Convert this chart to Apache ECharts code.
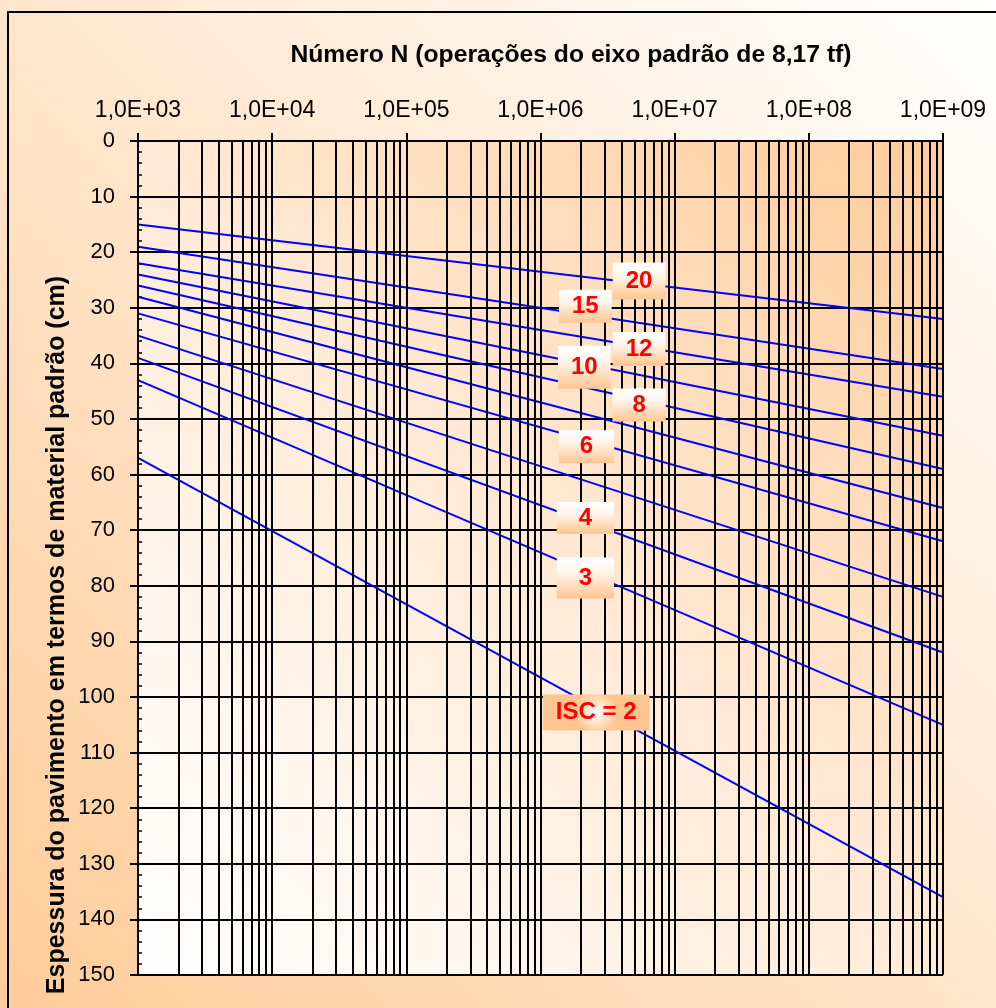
<!DOCTYPE html>
<html>
<head>
<meta charset="utf-8">
<script src="https://cdn.jsdelivr.net/npm/echarts@6/dist/echarts.min.js"></script>
<style>
html,body{margin:0;padding:0;background:#fff;}
#chart{width:996px;height:1008px;}
</style>
</head>
<body>
<div id="chart"></div>
<script>
// ---- data ----
const iscValues = [20, 15, 12, 10, 8, 7, 6, 5, 4, 3, 2];
const nStart = 1e3;
const nEnd = 1e9;
const thicknessAtStart = [15, 19, 22, 24, 26, 28, 31, 35, 39, 43, 57];
const thicknessAtEnd   = [32, 41, 46, 53, 59, 66, 72, 82, 92, 105, 136];

const labelTexts = ['20', '15', '12', '10', '8', '6', '4', '3', 'ISC = 2'];
const labelN     = [5.43e6, 2.16e6, 5.43e6, 2.12e6, 5.43e6, 2.2e6, 2.16e6, 2.16e6, 2.6e6];
const labelH     = [25.2, 29.7, 37.4, 40.7, 47.5, 55.0, 67.8, 78.6, 102.8];

const xTickExponents = [3, 4, 5, 6, 7, 8, 9];
const yTicks = [0, 10, 20, 30, 40, 50, 60, 70, 80, 90, 100, 110, 120, 130, 140, 150];

const xTitle = 'Número N (operações do eixo padrão de 8,17 tf)';
const yTitle = 'Espessura do pavimento em termos de material padrão (cm)';

// ---- styles ----
const labelPadding = [
  [13, 13, 4, 13], [12, 13, 1, 13], [13, 13, 1, 13], [13, 13, 10, 13], [13, 20, 0, 20],
  [13, 21, 0, 21], [11, 22, 1, 22], [13, 22, 8, 22], [13, 13, 3, 13]
];
const peach = '#FFCC99';
const FONT = 'Arial, "Liberation Sans", sans-serif';
const G = echarts.graphic;

// vertical log grid lines (1..9 x 10^k)
const vGrid = [];
for (let e = xTickExponents[0]; e < xTickExponents[xTickExponents.length - 1]; e++) {
  for (let k = 1; k <= 9; k++) vGrid.push(k * Math.pow(10, e));
}
vGrid.push(nEnd);

const lineSeries = iscValues.map((isc, i) => ({
  name: 'ISC ' + isc,
  type: 'line',
  data: [[nStart, thicknessAtStart[i]], [nEnd, thicknessAtEnd[i]]],
  symbol: 'none',
  showSymbol: false,
  silent: true,
  z: 3,
  lineStyle: { color: '#0000FF', width: 2 }
}));

const labelBoxGrad = new G.LinearGradient(0, 0, 0, 1, [
  { offset: 0, color: '#FFFFFF' },
  { offset: 0.35, color: '#FFF6EC' },
  { offset: 1, color: '#FFC590' }
]);
const labelBoxRadial = new G.RadialGradient(0.5, 0.5, 0.6, [
  { offset: 0, color: '#FFFFFF' },
  { offset: 0.45, color: '#FFE6CC' },
  { offset: 1, color: '#FFC590' }
]);

const labelData = labelTexts.map((t, i) => ({
  name: t,
  value: [labelN[i], labelH[i]],
  label: {
    padding: labelPadding[i],
    backgroundColor: t.length > 2 ? labelBoxRadial : labelBoxGrad
  }
}));

const option = {
  animation: false,
  backgroundColor: new G.LinearGradient(1, 0, 0, 1, [
    { offset: 0, color: '#FFFFFF' },
    { offset: 1, color: peach }
  ]),
  textStyle: { fontFamily: FONT },
  graphic: [
    { type: 'rect', silent: true, z: 100,
      shape: { x: 8, y: 12, width: 1100, height: 1100 },
      style: { fill: null, stroke: '#000', lineWidth: 2 } },
    { type: 'text', silent: true, x: 571, y: 55,
      style: { text: xTitle, fontSize: 24.7, fontWeight: 'bold', fontFamily: FONT,
               fill: '#000', align: 'center', verticalAlign: 'middle' } },
    { type: 'text', silent: true, x: 57, y: 635, rotation: Math.PI / 2,
      style: { text: yTitle, fontSize: 25, fontWeight: 'bold', fontFamily: FONT,
               fill: '#000', align: 'center', verticalAlign: 'middle' } }
  ],
  grid: {
    left: 138, top: 141, right: 53, bottom: 33,
    show: true, borderWidth: 0,
    backgroundColor: new G.LinearGradient(0, 1, 1, 0, [
      { offset: 0, color: '#FFFFFF' },
      { offset: 0.5, color: '#FFEAD6' },
      { offset: 1, color: peach }
    ])
  },
  xAxis: {
    type: 'log', logBase: 10, min: nStart, max: nEnd, interval: 1,
    position: 'top',
    axisLine: { show: true, lineStyle: { color: '#000', width: 2 } },
    axisTick: { show: true, length: 8, lineStyle: { color: '#000', width: 2 } },
    axisLabel: {
      color: '#000', fontSize: 23, margin: 19,
      formatter: v => {
        const e = Math.round(Math.log10(v));
        return xTickExponents.indexOf(e) >= 0 ? '1,0E+' + String(e).padStart(2, '0') : '';
      }
    },
    splitLine: { show: false },
    minorTick: { show: false }
  },
  yAxis: [
    {
      type: 'value', inverse: true, min: yTicks[0], max: yTicks[yTicks.length - 1], interval: 10,
      position: 'left',
      axisLine: { show: true, lineStyle: { color: '#000', width: 2 } },
      axisTick: { show: true, length: 8, lineStyle: { color: '#000', width: 2 } },
      axisLabel: { color: '#000', fontSize: 22, margin: 23 },
      splitLine: { show: true, lineStyle: { color: '#000', width: 2 } }
    },
    {
      type: 'value', inverse: true, min: yTicks[0], max: yTicks[yTicks.length - 1], interval: 10,
      position: 'left',
      axisLine: { show: false },
      axisTick: { show: false, inside: true },
      axisLabel: { show: false },
      minorTick: { show: true, splitNumber: 5, length: 4, lineStyle: { color: '#000', width: 1.5 } },
      splitLine: { show: false }
    }
  ],
  series: [
    {
      name: 'grid', type: 'line', data: [], z: 1, silent: true,
      markLine: {
        silent: true, symbol: ['none', 'none'], animation: false,
        label: { show: false },
        lineStyle: { color: '#000', width: 2, type: 'solid' },
        emphasis: { disabled: true },
        data: vGrid.map(v => ({ xAxis: v }))
      }
    },
    ...lineSeries,
    {
      name: 'labels', type: 'scatter', z: 5, silent: true,
      symbolSize: 0,
      itemStyle: { color: 'rgba(0,0,0,0)' },
      label: {
        show: true, position: 'inside', formatter: '{b}', opacity: 1,
        color: '#FF0000', fontSize: 24, fontWeight: 'bold', lineHeight: 20,
        fontFamily: FONT
      },
      data: labelData
    }
  ]
};

const chart = echarts.init(document.getElementById('chart'), null, { renderer: 'canvas' });
chart.setOption(option);
</script>
</body>
</html>
